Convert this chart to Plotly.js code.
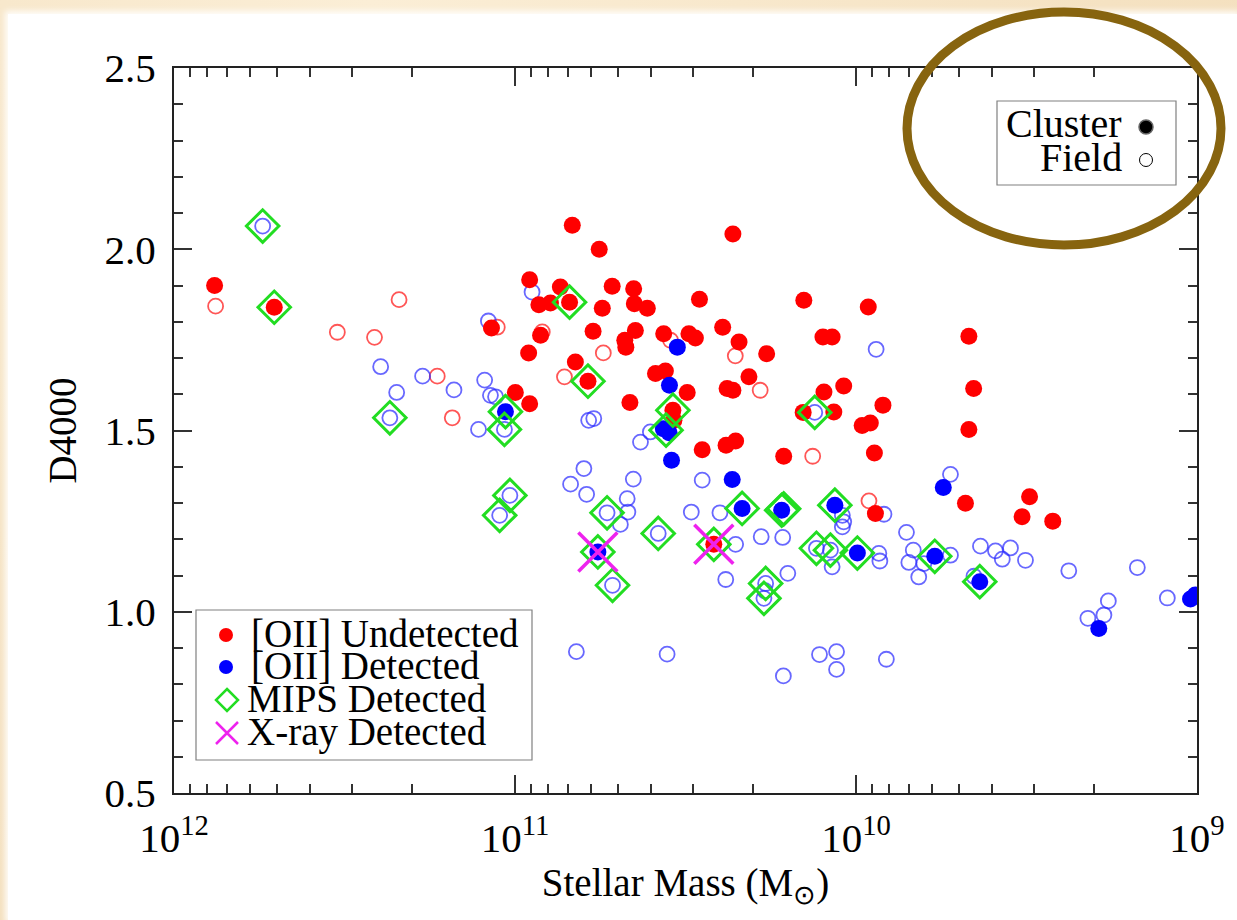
<!DOCTYPE html>
<html>
<head>
<meta charset="utf-8">
<script src="https://cdn.plot.ly/plotly-3.0.1.min.js"></script>
<style>
  html, body { margin:0; padding:0; width:1237px; height:920px; overflow:hidden;
    background: radial-gradient(ellipse at 30% 0%, #fbeed6 0%, #f5e2c2 60%, #f3ddb9 100%); }
  #panel { position:absolute; left:8px; top:14px; width:1229px; height:906px; background:#fff;
    box-shadow: 0 0 6px 3px rgba(255,255,255,0.9); }
  #chart { position:absolute; left:0; top:0; width:1237px; height:920px; }
</style>
</head>
<body>
<div id="panel"></div>
<div id="chart"></div>
<script>
// log10 of stellar mass (M_sun) and D4000
const redClusterLogM = [11.881,11.706,11.069,10.999,10.832,10.753,10.361,10.957,10.930,10.896,10.867,10.840,10.715,10.744,10.652,10.650,10.612,10.459,10.153,10.925,10.960,10.771,10.678,10.675,10.647,10.564,10.490,10.471,10.391,10.343,10.262,10.823,10.786,10.588,10.559,10.495,10.378,10.361,10.314,10.957,10.663,10.537,10.534,10.155,10.094,10.065,10.036,10.097,10.070,10.451,10.381,10.353,10.212,10.417,9.943,9.679,9.513,9.491,9.423,9.964,9.669,9.655,9.921,9.982,9.958,9.669,9.946];
const redClusterD    = [1.900,1.840,1.783,1.605,2.066,2.000,2.042,1.916,1.847,1.852,1.896,1.854,1.898,1.837,1.891,1.850,1.837,1.862,1.859,1.763,1.714,1.774,1.749,1.730,1.776,1.767,1.767,1.755,1.785,1.744,1.712,1.689,1.636,1.657,1.664,1.605,1.616,1.611,1.648,1.574,1.577,1.556,1.528,1.550,1.606,1.551,1.623,1.758,1.758,1.447,1.459,1.471,1.429,1.186,1.271,1.299,1.262,1.317,1.250,1.841,1.760,1.616,1.570,1.514,1.521,1.503,1.438];

const redFieldLogM = [11.878,11.340,11.521,11.412,11.228,11.184,11.052,10.920,10.741,10.544,10.354,10.855,10.281,10.127,9.962];
const redFieldD    = [1.843,1.861,1.771,1.757,1.650,1.535,1.785,1.772,1.714,1.749,1.706,1.648,1.611,1.429,1.306];

const blueClusterLogM = [11.028,10.524,10.547,10.565,10.548,10.541,10.363,10.334,10.218,10.062,10.757,9.996,9.769,9.637,9.744,9.288,9.019,9.005];
const blueClusterD    = [1.552,1.730,1.625,1.505,1.494,1.418,1.365,1.285,1.280,1.294,1.165,1.162,1.153,1.083,1.343,0.954,1.035,1.046];

const blueFieldLogM = [11.740,11.394,11.271,11.347,11.179,11.367,11.107,11.089,11.078,11.072,11.057,11.031,10.950,10.603,10.632,10.784,10.769,10.121,10.451,10.798,10.837,10.790,10.653,10.671,10.669,10.691,10.730,10.580,10.483,10.399,10.353,10.714,10.382,10.278,10.215,10.200,10.265,10.267,10.270,10.116,10.075,10.070,10.820,10.554,10.213,10.107,10.057,10.057,9.918,10.040,10.036,10.040,9.933,9.930,9.852,9.832,9.845,9.816,9.801,9.723,9.635,9.591,9.571,9.547,9.503,9.654,9.376,9.175,9.087,9.260,9.273,9.320,9.911,9.941,9.723,11.015,11.045];
const blueFieldD    = [2.064,1.676,1.650,1.605,1.612,1.535,1.503,1.639,1.802,1.597,1.593,1.503,1.882,1.496,1.468,1.528,1.533,1.550,1.363,1.395,1.352,1.324,1.366,1.312,1.275,1.241,1.273,1.216,1.275,1.273,1.186,1.073,1.089,1.207,1.205,1.106,1.078,1.058,1.037,1.175,1.170,1.124,0.890,0.883,0.823,0.882,0.890,0.841,1.269,1.266,1.248,1.234,1.161,1.140,1.219,1.170,1.136,1.096,1.133,1.156,1.181,1.168,1.145,1.176,1.142,1.098,1.113,1.122,1.038,1.030,0.991,0.982,0.869,1.724,1.379,1.321,1.266];

const mipsLogM = [11.740,11.706,11.367,11.028,11.031,11.015,11.045,10.840,10.786,10.537,10.557,10.730,10.580,10.757,10.714,10.417,10.334,10.218,10.212,10.265,10.270,10.121,10.062,10.116,10.075,9.996,9.769,9.637];
const mipsD    = [2.064,1.840,1.535,1.552,1.503,1.321,1.266,1.854,1.636,1.556,1.501,1.273,1.216,1.165,1.073,1.186,1.285,1.280,1.284,1.078,1.037,1.550,1.294,1.175,1.170,1.162,1.153,1.083];

const xrayLogM = [10.757,10.417];
const xrayD    = [1.165,1.186];

const xTickVals = [1e12, 1e11, 1e10, 1e9];
const xTickText = ['10<sup>12</sup>', '10<sup>11</sup>', '10<sup>10</sup>', '10<sup>9</sup>'];
const yTickVals = [0.5, 1.0, 1.5, 2.0, 2.5];
const yTickText = ['0.5', '1.0', '1.5', '2.0', '2.5'];

const legendLabels = ['[OII] Undetected', '[OII] Detected', 'MIPS Detected', 'X-ray Detected'];
const boxLabels = ['Cluster', 'Field'];

const toMass = a => a.map(v => Math.pow(10, v));
const FONT = '"Liberation Serif", "Times New Roman", Times, serif';

const traces = [
  { x: toMass(redFieldLogM), y: redFieldD, type:'scatter', mode:'markers', showlegend:false,
    marker:{symbol:'circle-open', size:15, color:'rgba(255,30,30,0.75)', line:{width:1.8}} },
  { x: toMass(blueFieldLogM), y: blueFieldD, type:'scatter', mode:'markers', showlegend:false,
    marker:{symbol:'circle-open', size:15, color:'rgba(40,40,255,0.7)', line:{width:1.8}} },
  { x: toMass(redClusterLogM), y: redClusterD, type:'scatter', mode:'markers', showlegend:false,
    marker:{symbol:'circle', size:17, color:'#ff0000', line:{width:0}} },
  { x: toMass(blueClusterLogM), y: blueClusterD, type:'scatter', mode:'markers', showlegend:false,
    marker:{symbol:'circle', size:17, color:'#0000ff', line:{width:0}} },
  { x: toMass(mipsLogM), y: mipsD, type:'scatter', mode:'markers', showlegend:false,
    marker:{symbol:'diamond-open', size:25, color:'#22dd22', line:{width:3}} },
  { x: toMass(xrayLogM), y: xrayD, type:'scatter', mode:'markers', showlegend:false,
    marker:{symbol:'x-thin-open', size:39, color:'#ee22ee', line:{width:3.5, color:'#ee22ee'}} }
];

// helpers for paper coordinates from pixel layout
const L = 174, R = 1197, T = 68, B = 793;
const px = v => (v - L) / (R - L);
const py = v => (B - v) / (B - T);

const shapes = [
  // top-right legend box
  {type:'rect', xref:'paper', yref:'paper', x0:px(997), x1:px(1176), y0:py(185), y1:py(101),
   line:{color:'#808080', width:1.2}, fillcolor:'rgba(0,0,0,0)'},
  {type:'circle', xref:'paper', yref:'paper', xsizemode:'pixel', ysizemode:'pixel',
   xanchor:px(1146), yanchor:py(127), x0:-7, x1:7, y0:-7, y1:7, fillcolor:'#000', line:{color:'#666', width:1.5}},
  {type:'circle', xref:'paper', yref:'paper', xsizemode:'pixel', ysizemode:'pixel',
   xanchor:px(1146), yanchor:py(160), x0:-6.5, x1:6.5, y0:-6.5, y1:6.5, fillcolor:'#fff', line:{color:'#000', width:1}},
  // bottom-left legend box
  {type:'rect', xref:'paper', yref:'paper', x0:px(196), x1:px(532), y0:py(760), y1:py(610),
   line:{color:'#808080', width:1.2}, fillcolor:'#fff'},
  {type:'circle', xref:'paper', yref:'paper', xsizemode:'pixel', ysizemode:'pixel',
   xanchor:px(226), yanchor:py(635), x0:-7, x1:7, y0:-7, y1:7, fillcolor:'#ff0000', line:{width:0}},
  {type:'circle', xref:'paper', yref:'paper', xsizemode:'pixel', ysizemode:'pixel',
   xanchor:px(226), yanchor:py(667), x0:-7, x1:7, y0:-7, y1:7, fillcolor:'#0000ff', line:{width:0}},
  {type:'path', xref:'paper', yref:'paper', xsizemode:'pixel', ysizemode:'pixel',
   xanchor:px(227), yanchor:py(700), path:'M0,11L11,0L0,-11L-11,0Z', line:{color:'#22dd22', width:2.5}},
  {type:'path', xref:'paper', yref:'paper', xsizemode:'pixel', ysizemode:'pixel',
   xanchor:px(227), yanchor:py(733), path:'M-11,-11L11,11M-11,11L11,-11', line:{color:'#ee22ee', width:2.5}},
  // highlight ellipse
  {type:'circle', xref:'paper', yref:'paper', x0:px(907), x1:px(1221), y0:py(245), y1:py(12),
   line:{color:'#87640f', width:9}, fillcolor:'rgba(0,0,0,0)', layer:'above'}
];

const legendRowsY = [633, 665, 698, 732];
const annotations = legendLabels.map((t, i) => ({
  xref:'paper', yref:'paper', x:px(i < 2 ? 249 : 245), y:py(legendRowsY[i]), xanchor:'left', yanchor:'middle',
  text:t, showarrow:false, font:{family:FONT, size:39, color:'#000'}
})).concat(boxLabels.map((t, i) => ({
  xref:'paper', yref:'paper', x:px(1124), y:py(i === 0 ? 124 : 157), xanchor:'right', yanchor:'middle',
  text:t, showarrow:false, font:{family:FONT, size:40, color:'#000'}
})));

const axisCommon = {
  showline:true, linecolor:'#222', linewidth:2, mirror:'ticks', ticks:'inside',
  ticklen:18, tickwidth:2, tickcolor:'#333', showgrid:false, zeroline:false,
  tickfont:{family:FONT, size:41, color:'#000'}
};

const layout = {
  width:1237, height:920,
  margin:{l:L, r:1237-R, t:T, b:920-B, pad:0},
  paper_bgcolor:'rgba(0,0,0,0)', plot_bgcolor:'#fff',
  showlegend:false,
  xaxis: Object.assign({}, axisCommon, {
    type:'log', range:[12, 9], autorange:false,
    tickmode:'array', tickvals:xTickVals, ticktext:xTickText,
    minor:{ticks:'inside', ticklen:9, tickwidth:2, tickcolor:'#333', dtick:'D1', showgrid:false},
    ticklabelstandoff: 8,
    title:{text:'Stellar Mass (M<sub>⊙</sub>)', font:{family:FONT, size:39, color:'#000'}, standoff:6}
  }),
  yaxis: Object.assign({}, axisCommon, {
    range:[0.5, 2.5], autorange:false,
    tickmode:'array', tickvals:yTickVals, ticktext:yTickText,
    minor:{ticks:'inside', ticklen:9, tickwidth:2, tickcolor:'#333', dtick:0.1, showgrid:false},
    ticklabelstandoff: 8,
    title:{text:'D4000', font:{family:FONT, size:39, color:'#000'}, standoff:16}
  }),
  shapes: shapes,
  annotations: annotations
};

Plotly.newPlot('chart', traces, layout, {displayModeBar:false, staticPlot:true});
</script>
</body>
</html>
